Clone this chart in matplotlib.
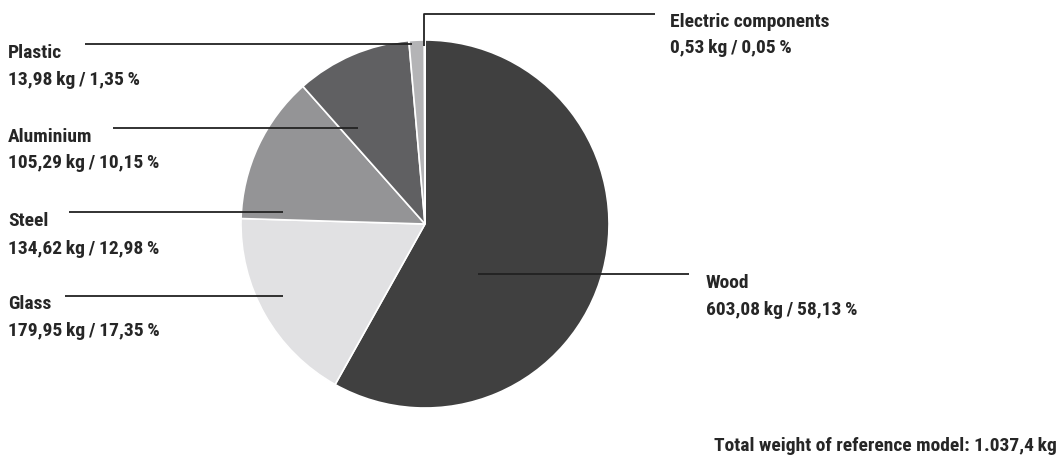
import matplotlib.pyplot as plt

# data
materials = ["Wood", "Glass", "Steel", "Aluminium", "Plastic", "Electric components"]
weights_kg = [603.08, 179.95, 134.62, 105.29, 13.98, 0.53]
shares_pct = [58.13, 17.35, 12.98, 10.15, 1.35, 0.05]
total_label = "Total weight of reference model: 1.037,4\u2009kg"

colors = ["#404040", "#e1e1e3", "#949496", "#606062", "#b4b4b6", "#dcdcdc"]

plt.rcParams["font.family"] = ["Roboto Condensed", "DejaVu Sans"]

W, H = 1060, 455
fig = plt.figure(figsize=(W / 100, H / 100), dpi=100)
ax = fig.add_axes([0, 0, 1, 1])

cx, cy, r = 425, H - 224, 184
ax.pie(shares_pct, colors=colors, startangle=90, counterclock=False,
       center=(cx, cy), radius=r, frame=True,
       wedgeprops=dict(edgecolor="white", linewidth=1.2))
ax.set_xlim(0, W)
ax.set_ylim(0, H)
ax.set_aspect("equal")
ax.axis("off")

def fmt(v):
    return f"{v:.2f}".replace(".", ",")

# label layout: text x, name baseline, value baseline, leader points (px from top-left)
layout = {
    "Wood": (706, 288, 315, [(478, 274), (689, 274)]),
    "Glass": (8, 309, 336, [(65, 296), (283, 296)]),
    "Steel": (8, 226, 254, [(69, 212), (283, 212)]),
    "Aluminium": (8, 142, 168, [(113, 128), (358, 128)]),
    "Plastic": (8, 58, 85, [(85, 44), (412, 44)]),
    "Electric components": (670, 27, 53, [(655, 14), (424, 14), (424, 46)]),
}

tc = "#262626"
fs = 14
for name, kg, pct in zip(materials, weights_kg, shares_pct):
    tx, yn, yv, pts = layout[name]
    xs = [p[0] for p in pts]
    ys = [H - p[1] for p in pts]
    ax.plot(xs, ys, color="#222222", lw=1.3, solid_capstyle="butt")
    ax.text(tx, H - yn, name, fontsize=fs, fontweight="bold",
            color=tc, va="baseline", ha="left")
    ax.text(tx, H - yv, f"{fmt(kg)}\u2009kg\u2009/\u2009{fmt(pct)}\u2009%",
            fontsize=fs, fontweight="bold", color=tc,
            va="baseline", ha="left")

ax.text(1057, H - 451, total_label, fontsize=fs, fontweight="bold",
        color=tc, va="baseline", ha="right")

fig.savefig("out.png", dpi=100, facecolor="white")
